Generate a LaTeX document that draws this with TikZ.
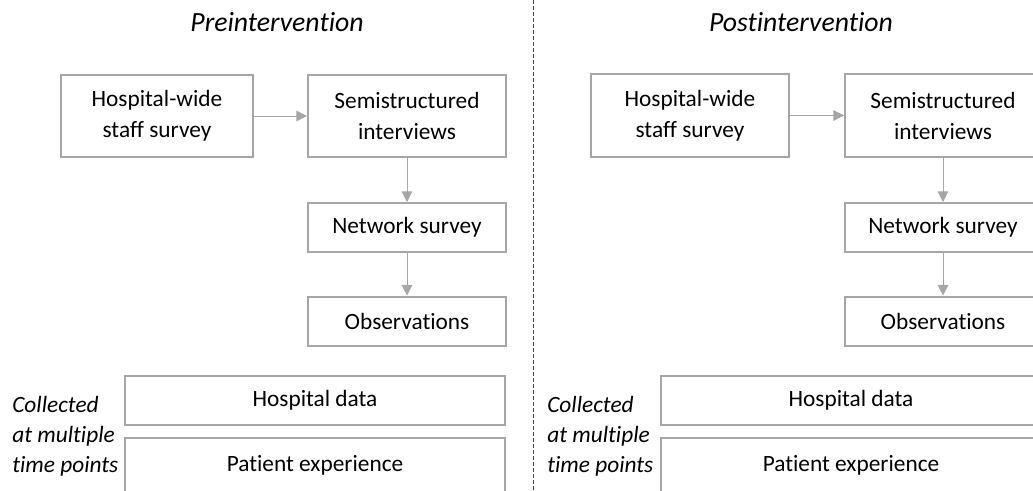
\documentclass[tikz,border=0pt]{standalone}
\usepackage{fontspec}
\setmainfont{Carlito}[Ligatures=NoCommon]
\usepackage{tikz}
\usetikzlibrary{arrows.meta}
\pgfdeclarelayer{edgelayer}
\pgfdeclarelayer{nodelayer}
\pgfsetlayers{edgelayer,nodelayer,main}
\definecolor{boxgray}{HTML}{A6A6A6}
\tikzstyle{none} = [inner sep=0pt, font=\fontsize{17.5}{22.5}\selectfont]
\tikzstyle{title} = [inner sep=0pt, font=\fontsize{20.8}{25}\selectfont\itshape]
\tikzstyle{box} = [draw=boxgray, line width=1.5pt, fill=white, align=center, inner sep=0pt, font=\fontsize{17.5}{23.25}\selectfont]
\tikzstyle{arrow} = [draw=boxgray, line width=0.75pt, -{Triangle[length=8pt, width=8pt]}]
\tikzstyle{divider} = [draw=black!70, line width=0.5pt, dash pattern=on 3pt off 1.5pt]

\begin{document}
\begin{tikzpicture}[x=0.75pt, y=-0.75pt]
	\useasboundingbox (0, 0) rectangle (1033, 490);
	\begin{pgfonlayer}{nodelayer}
		\node [style=title] (0) at (277, 22) {Preintervention};
		\node [style=box, minimum width=144pt, minimum height=61.5pt] (1) at (157, 116) {Hospital-wide\\staff survey};
		\node [style=box, minimum width=148.5pt, minimum height=61.5pt] (2) at (407, 116) {Semistructured\\interviews};
		\node [style=box, minimum width=148.5pt, minimum height=36.75pt] (3) at (407, 227.5) {Network survey};
		\node [style=box, minimum width=148.5pt, minimum height=36.75pt] (4) at (407, 321) {Observations};
		\node [style=box, minimum width=285pt, minimum height=36.75pt] (5) at (315, 400.5) {Hospital data};
		\node [style=box, minimum width=285pt, minimum height=40.5pt] (6) at (315, 465) {Patient experience};
		\node [style=none, anchor=west, align=left] (7) at (12, 436) {\itshape Collected\\\itshape at multiple\\\itshape time points};
		\node [style=title] (8) at (801, 22) {Postintervention};
		\node [style=box, minimum width=148.5pt, minimum height=62.25pt] (9) at (690, 115.5) {Hospital-wide\\staff survey};
		\node [style=box, minimum width=147pt, minimum height=62.25pt] (10) at (943, 115.5) {Semistructured\\interviews};
		\node [style=box, minimum width=147pt, minimum height=36.75pt] (11) at (943, 227.5) {Network survey};
		\node [style=box, minimum width=147pt, minimum height=36.75pt] (12) at (943, 321) {Observations};
		\node [style=box, minimum width=285pt, minimum height=36.75pt] (13) at (851, 400.5) {Hospital data};
		\node [style=box, minimum width=285pt, minimum height=40.5pt] (14) at (851, 465) {Patient experience};
		\node [style=none, anchor=west, align=left] (15) at (547, 436) {\itshape Collected\\\itshape at multiple\\\itshape time points};
		\coordinate (16) at (533, 0);
		\coordinate (17) at (533, 490);
	\end{pgfonlayer}
	\begin{pgfonlayer}{edgelayer}
		\draw [style=arrow] (1) to (2);
		\draw [style=arrow] (2) to (3);
		\draw [style=arrow] (3) to (4);
		\draw [style=arrow] (9) to (10);
		\draw [style=arrow] (10) to (11);
		\draw [style=arrow] (11) to (12);
		\draw [style=divider] (16) to (17);
	\end{pgfonlayer}
\end{tikzpicture}
\end{document}
